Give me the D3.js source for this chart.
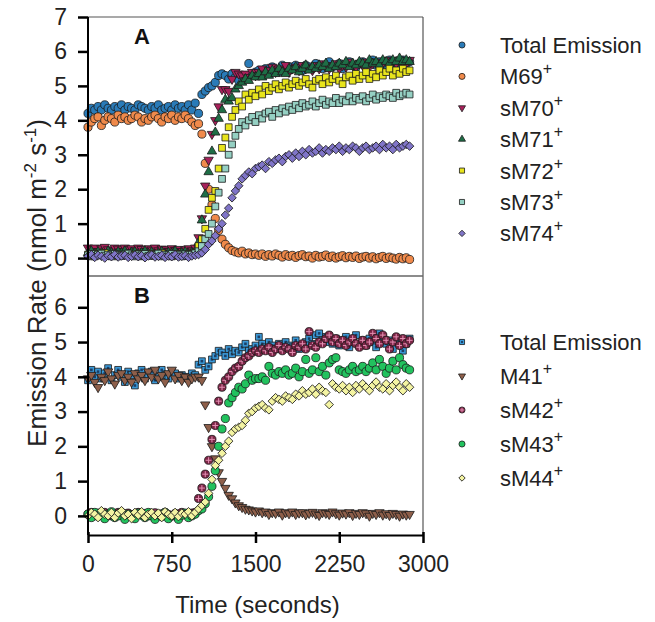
<!DOCTYPE html>
<html>
<head>
<meta charset="utf-8">
<script src="https://cdn.jsdelivr.net/npm/d3@7/dist/d3.min.js"></script>
<style>
  html, body { margin: 0; padding: 0; background: #fff; }
  svg { display: block; font-family: Arial, "Liberation Sans", sans-serif; }
</style>
</head>
<body>
<svg id="chart" width="655" height="622"></svg>
<script>
// Sampling times (s)
const time = [0,30,60,90,120,150,180,210,240,270,300,330,360,390,420,450,480,510,540,570,
  600,630,660,690,720,750,780,810,840,870,900,930,960,990,1020,1050,1080,1110,1140,1170,
  1200,1230,1260,1290,1320,1350,1380,1410,1440,1470,1500,1530,1560,1590,1620,1650,1680,1710,1740,1770,
  1800,1830,1860,1890,1920,1950,1980,2010,2040,2070,2100,2130,2160,2190,2220,2250,2280,2310,2340,2370,
  2400,2430,2460,2490,2520,2550,2580,2610,2640,2670,2700,2730,2760,2790,2820,2850,2880];

const xTicks = [0, 750, 1500, 2250, 3000];
const yTicksA = [0, 1, 2, 3, 4, 5, 6, 7];
const yTicksB = [0, 1, 2, 3, 4, 5, 6];

// Panel A emission rates (nmol m-2 s-1)
const totalA = [4.2,4.35,4.3,4.4,4.3,4.45,4.35,4.3,4.4,4.35,4.45,4.3,4.4,4.35,4.3,4.45,4.4,4.35,4.3,4.4,
  4.35,4.45,4.3,4.35,4.4,4.3,4.45,4.35,4.4,4.3,4.45,4.3,4.5,
  4.2,4.75,4.85,4.95,5.0,5.1,5.3,5.35,5.3,5.2,5.35,5.25,5.15,5.3,5.25,5.65,5.35,5.4,
  5.45,5.35,5.5,5.4,5.55,5.45,5.4,5.6,5.5,5.45,5.55,5.6,5.5,5.45,5.6,5.55,5.5,5.65,5.55,5.5,
  5.6,5.7,5.55,5.6,5.65,5.5,5.6,5.7,5.6,5.55,5.65,5.7,5.6,5.65,5.75,5.6,5.7,5.65,5.6,5.75,
  5.7,5.65,5.7,5.75,5.65,5.7];
const m69 = [3.8,3.95,4.05,4.1,3.85,4.0,4.1,4.05,3.95,4.15,4.05,4.1,4.0,4.05,4.15,4.1,3.95,4.05,4.0,4.1,
  4.15,4.05,3.95,4.1,4.05,4.15,4.0,4.1,4.05,4.15,4.05,3.95,3.85,
  3.9,3.6,2.75,2.0,1.55,1.15,0.8,0.55,0.4,0.3,0.22,0.18,0.15,0.2,0.12,0.15,0.1,0.12,
  0.08,0.12,0.05,0.1,0.06,0.12,0.08,0.03,0.1,0.05,0.08,0.02,0.07,0.1,0.04,0.06,0.0,0.08,0.03,0.05,
  0.09,0.02,0.06,0.0,0.04,0.07,0.01,0.05,0.02,0.06,-0.01,0.03,0.05,0.0,0.04,-0.02,0.02,0.05,-0.01,0.03,
  0.0,-0.03,0.02,-0.02,0.01,-0.04];
const sm70 = [0.3,0.25,0.3,0.2,0.28,0.32,0.25,0.22,0.3,0.27,0.2,0.3,0.25,0.28,0.22,0.3,0.26,0.2,0.28,0.24,
  0.3,0.22,0.27,0.25,0.2,0.28,0.23,0.26,0.2,0.25,0.28,0.22,0.3,
  0.6,1.15,2.1,2.85,3.6,4.0,4.4,4.9,4.9,4.85,5.2,5.4,5.35,5.3,5.35,5.25,5.4,5.3,
  5.4,5.5,5.35,5.45,5.55,5.4,5.5,5.45,5.6,5.4,5.5,5.55,5.45,5.6,5.5,5.55,5.45,5.6,5.5,5.65,
  5.55,5.5,5.6,5.65,5.5,5.6,5.55,5.7,5.6,5.55,5.65,5.6,5.7,5.55,5.65,5.7,5.6,5.65,5.75,5.6,
  5.7,5.65,5.75,5.7,5.65,5.75];
const sm71 = [0.15,0.2,0.12,0.18,0.15,0.1,0.2,0.15,0.12,0.18,0.14,0.2,0.1,0.16,0.18,0.12,0.15,0.2,0.13,0.17,
  0.1,0.15,0.19,0.12,0.16,0.14,0.2,0.1,0.15,0.18,0.12,0.16,0.2,
  0.45,1.1,1.85,2.5,3.1,3.65,4.05,4.3,4.6,4.55,4.65,4.9,5.0,5.1,5.2,5.15,5.3,5.25,
  5.35,5.25,5.4,5.3,5.45,5.35,5.5,5.4,5.35,5.5,5.45,5.55,5.4,5.5,5.6,5.45,5.55,5.5,5.6,5.55,
  5.65,5.5,5.6,5.55,5.65,5.6,5.7,5.55,5.65,5.6,5.7,5.65,5.6,5.75,5.65,5.7,5.6,5.75,5.7,5.65,
  5.75,5.7,5.8,5.7,5.75,5.7];
const sm72 = [0.1,0.05,0.12,0.08,0.1,0.15,0.06,0.1,0.12,0.05,0.1,0.08,0.13,0.07,0.1,0.12,0.05,0.1,0.08,0.12,
  0.06,0.1,0.14,0.08,0.1,0.05,0.12,0.09,0.1,0.07,0.12,0.1,0.15,
  0.35,0.55,0.85,1.4,1.75,1.95,2.6,3.2,3.5,3.8,4.1,4.3,4.55,4.4,4.75,4.6,4.8,4.7,
  4.9,4.75,5.0,4.85,4.95,5.05,4.9,5.0,5.1,4.95,5.05,5.15,5.0,5.1,5.2,5.05,4.95,5.15,5.2,5.05,
  5.25,5.1,5.2,5.3,5.15,5.05,5.25,5.3,5.15,5.35,5.2,5.3,5.4,5.2,5.35,5.25,5.45,5.3,5.4,5.5,
  5.3,5.45,5.35,5.5,5.4,5.45];
const sm73 = [0.08,0.12,0.05,0.1,0.13,0.07,0.1,0.05,0.12,0.09,0.06,0.1,0.13,0.08,0.05,0.11,0.08,0.12,0.06,0.1,
  0.09,0.13,0.05,0.1,0.08,0.12,0.07,0.1,0.05,0.11,0.09,0.1,0.14,
  0.2,0.35,0.55,0.7,1.0,1.5,1.9,2.3,2.6,3.0,3.3,3.55,3.75,3.95,3.85,4.0,4.1,3.95,
  4.15,4.05,4.2,4.25,4.1,4.3,4.2,4.35,4.25,4.4,4.3,4.45,4.35,4.5,4.4,4.45,4.55,4.4,4.5,4.6,
  4.45,4.55,4.5,4.65,4.5,4.6,4.55,4.7,4.55,4.65,4.6,4.7,4.55,4.65,4.75,4.6,4.7,4.65,4.75,4.7,
  4.65,4.8,4.7,4.75,4.8,4.75];
const sm74 = [0.05,0.1,0.02,0.08,0.05,0.0,0.07,0.04,0.1,0.03,0.06,0.08,0.02,0.05,0.09,0.04,0.07,0.01,0.06,0.09,
  0.03,0.05,0.08,0.02,0.06,0.04,0.1,0.03,0.05,0.07,0.02,0.06,0.08,
  0.1,0.15,0.25,0.4,0.5,0.65,0.85,1.0,1.25,1.45,1.75,1.95,2.1,2.3,2.4,2.5,2.45,2.6,
  2.65,2.7,2.6,2.8,2.75,2.85,2.9,2.8,2.95,3.0,2.9,3.05,2.95,3.1,3.0,3.15,3.05,3.1,3.2,3.05,
  3.15,3.1,3.2,3.15,3.25,3.1,3.2,3.15,3.25,3.2,3.1,3.2,3.25,3.15,3.2,3.25,3.15,3.3,3.2,3.25,
  3.15,3.3,3.2,3.25,3.3,3.25];

// Panel B emission rates (nmol m-2 s-1)
const totalB = [3.9,4.2,4.0,4.15,3.95,4.1,4.25,3.9,4.05,4.2,4.0,3.85,4.15,4.05,3.75,4.1,4.2,3.95,4.05,4.15,
  3.9,4.0,4.2,4.05,3.95,4.15,4.1,3.95,4.05,4.0,3.95,4.1,4.05,
  4.35,4.45,4.2,4.3,4.5,4.6,4.75,4.7,4.6,4.8,4.65,4.75,4.7,4.85,4.95,4.75,4.8,4.9,
  5.15,4.95,4.85,5.0,4.9,4.8,4.95,4.85,5.0,4.9,4.85,5.05,4.8,4.9,5.0,5.1,4.95,5.2,5.25,5.05,
  5.15,5.0,4.95,5.1,4.9,5.05,5.15,4.85,5.0,5.2,4.95,5.05,4.9,5.1,5.0,4.85,5.25,5.15,4.95,5.05,
  4.8,5.1,5.0,4.75,4.95,5.1];
const m41 = [3.95,4.05,3.85,3.7,4.0,3.9,4.15,3.95,3.8,4.05,4.1,3.9,4.0,3.85,4.1,3.95,4.05,3.9,4.15,4.0,
  4.2,3.95,4.05,3.85,4.1,4.2,3.95,4.05,3.9,4.0,3.85,3.95,4.0,
  4.0,3.9,3.2,2.55,2.0,1.65,1.25,1.0,0.8,0.6,0.5,0.38,0.3,0.25,0.2,0.18,0.15,0.12,
  0.15,0.1,0.12,0.05,0.1,0.08,0.12,0.03,0.1,0.07,0.12,0.05,0.09,0.1,0.04,0.08,0.11,0.06,0.02,0.1,
  0.08,0.05,0.12,0.07,0.03,0.09,0.06,0.1,0.02,0.08,0.05,0.1,0.07,0.0,0.08,0.05,0.1,0.03,0.07,0.02,
  0.08,0.05,0.0,0.06,0.03,0.05];
const sm42 = [0.05,0.1,0.0,0.08,0.03,0.1,0.05,0.0,0.07,0.1,0.02,0.06,0.08,0.0,0.05,0.1,0.03,0.07,0.0,0.05,
  0.09,0.02,0.06,0.1,0.04,0.0,0.07,0.05,0.1,0.03,0.06,0.08,0.1,
  0.5,0.8,1.2,1.6,2.2,2.6,3.3,3.7,3.9,4.0,4.15,4.25,4.3,4.45,4.55,4.6,4.7,4.75,
  4.7,4.8,4.75,4.85,4.7,4.8,4.9,4.75,4.85,4.8,4.7,4.9,4.85,4.95,4.8,5.3,4.9,4.85,5.0,4.95,
  5.1,5.2,5.0,5.1,4.95,5.05,4.9,5.0,5.1,4.95,4.85,5.05,4.9,5.0,5.25,5.1,4.95,5.2,5.05,4.8,
  5.0,5.15,4.9,5.1,4.95,5.05];
const sm43 = [0.05,-0.05,0.1,0.0,0.08,-0.08,0.05,0.12,-0.05,0.0,0.1,-0.1,0.05,0.0,-0.08,0.08,0.02,-0.05,0.1,0.0,
  -0.1,0.05,-0.02,0.1,-0.08,0.0,0.05,-0.1,0.02,0.08,-0.05,0.0,0.05,
  0.15,0.2,0.35,0.55,0.85,1.3,2.0,2.5,2.8,3.25,3.4,3.55,3.7,3.65,3.8,4.05,3.9,3.95,
  3.95,4.0,3.9,4.3,4.1,4.05,4.15,4.1,4.2,4.05,4.1,4.25,4.0,4.15,4.5,4.1,4.2,4.55,4.15,4.3,
  4.05,4.4,4.5,4.55,4.2,4.15,4.1,4.2,4.3,4.15,4.2,4.3,4.15,4.25,4.4,4.2,4.5,4.3,4.1,4.25,
  4.45,4.2,4.55,4.35,4.25,4.2];
const sm44 = [0.0,0.1,0.05,-0.05,0.15,0.05,0.0,0.1,-0.05,0.08,0.15,0.0,0.05,-0.08,0.1,0.02,0.12,-0.05,0.05,0.1,
  0.0,0.08,-0.05,0.12,0.05,0.0,0.1,-0.02,0.08,0.05,0.12,0.0,0.1,
  0.2,0.3,0.4,0.65,1.05,1.45,1.6,1.8,2.0,2.15,2.4,2.5,2.55,2.6,2.75,2.95,3.0,3.1,
  3.15,3.2,3.1,3.05,3.3,3.4,3.35,3.3,3.45,3.4,3.35,3.5,3.45,3.6,3.5,3.55,3.65,3.5,3.7,3.6,
  3.55,3.2,3.8,3.7,3.65,3.75,3.6,3.7,3.55,3.75,3.65,3.8,3.7,3.6,3.75,3.85,3.7,3.65,3.8,3.6,
  3.75,3.85,3.7,3.6,3.8,3.7];

// Series definitions (label, superscript, values, marker, colours)
const seriesA = [
  { label: "Total Emission", sup: "",  values: totalA, shape: "circle",   fill: "#2a7bb8" },
  { label: "M69",            sup: "+", values: m69,    shape: "circle",   fill: "#f08a4b" },
  { label: "sM70",           sup: "+", values: sm70,   shape: "triDown",  fill: "#a8205a" },
  { label: "sM71",           sup: "+", values: sm71,   shape: "triUp",    fill: "#1e6e46" },
  { label: "sM72",           sup: "+", values: sm72,   shape: "square",   fill: "#e8e41c" },
  { label: "sM73",           sup: "+", values: sm73,   shape: "square",   fill: "#95d0c3" },
  { label: "sM74",           sup: "+", values: sm74,   shape: "diamond",  fill: "#8075c8" }
];
const seriesB = [
  { label: "Total Emission", sup: "",  values: totalB, shape: "squareDot",  fill: "#3a98d6" },
  { label: "M41",            sup: "+", values: m41,    shape: "triDown",    fill: "#8e5f4a" },
  { label: "sM42",           sup: "+", values: sm42,   shape: "circleCross", fill: "#7c2546" },
  { label: "sM43",           sup: "+", values: sm43,   shape: "circle",     fill: "#22c25e" },
  { label: "sM44",           sup: "+", values: sm44,   shape: "diamond",    fill: "#f4f4a2" }
];

const svg = d3.select("#chart");
const left = 88, right = 423;
const x = d3.scaleLinear().domain([0, 3000]).range([left, right]);
const yA = d3.scaleLinear().domain([-0.52, 7]).range([276, 17]);
const yB = d3.scaleLinear().domain([-0.55, 6.9]).range([535, 276]);

// Draws one marker of the given shape centred at the origin of group g
function drawMarker(g, shape, fill, scale) {
  const s = scale || 1;
  const stroke = "#1a1a1a", sw = 0.8;
  const sym = (type, area, rot) => g.append("path")
    .attr("d", d3.symbol().type(type).size(area * s * s)())
    .attr("transform", rot ? `rotate(${rot})` : null)
    .attr("fill", fill).attr("stroke", stroke).attr("stroke-width", sw);
  if (shape === "circle") sym(d3.symbolCircle, 52);
  else if (shape === "square") sym(d3.symbolSquare, 46);
  else if (shape === "triUp") sym(d3.symbolTriangle, 38);
  else if (shape === "triDown") sym(d3.symbolTriangle, 38, 180);
  else if (shape === "diamond") sym(d3.symbolSquare, 36, 45);
  else if (shape === "squareDot") {
    sym(d3.symbolSquare, 46);
    g.append("rect").attr("x", -1.3 * s).attr("y", -1.3 * s).attr("width", 2.6 * s).attr("height", 2.6 * s)
      .attr("fill", "#1d3f66");
  } else if (shape === "circleCross") {
    sym(d3.symbolCircle, 52);
    const r = 3 * s;
    g.append("path").attr("d", `M${-r},0H${r}M0,${-r}V${r}`)
      .attr("stroke", "#e58fb3").attr("stroke-width", 1);
  }
}

function drawPanel(series, y) {
  series.forEach(sr => {
    const g = svg.append("g");
    sr.values.forEach((v, i) => {
      const m = g.append("g").attr("transform", `translate(${x(time[i])},${y(v)})`);
      drawMarker(m, sr.shape, sr.fill, 1);
    });
  });
}
drawPanel(seriesA, yA);
drawPanel(seriesB, yB);

// Frame lines
const frame = svg.append("g").attr("fill", "none");
frame.append("line").attr("x1", left).attr("x2", right).attr("y1", 17).attr("y2", 17)
  .attr("stroke", "#555").attr("stroke-width", 1.2);
frame.append("line").attr("x1", right).attr("x2", right).attr("y1", 17).attr("y2", 535)
  .attr("stroke", "#555").attr("stroke-width", 1.2);
frame.append("line").attr("x1", left).attr("x2", right).attr("y1", 276).attr("y2", 276)
  .attr("stroke", "#666").attr("stroke-width", 1.5);

// Y axes
const yAxisA = svg.append("g").attr("transform", `translate(${left},0)`)
  .call(d3.axisLeft(yA).tickValues(yTicksA).tickSize(10).tickPadding(11).tickSizeOuter(0));
const yAxisB = svg.append("g").attr("transform", `translate(${left},0)`)
  .call(d3.axisLeft(yB).tickValues(yTicksB).tickSize(10).tickPadding(11).tickSizeOuter(0));
// X axis
const xAxis = svg.append("g").attr("transform", `translate(0,535)`)
  .call(d3.axisBottom(x).tickValues(xTicks).tickFormat(d3.format("d"))
    .tickSize(8).tickPadding(13).tickSizeOuter(0));
xAxis.selectAll(".tick line").attr("y1", -3);

[yAxisA, yAxisB, xAxis].forEach(ax => {
  ax.select(".domain").attr("stroke", "#000").attr("stroke-width", 2);
  ax.selectAll(".tick line").attr("stroke", "#000").attr("stroke-width", 2.5);
  ax.selectAll(".tick text").attr("font-size", 23).attr("fill", "#222")
    .attr("font-family", "Arial, 'Liberation Sans', sans-serif");
});
yAxisA.select(".domain").attr("d", `M0,${yA(7)}V276`);
yAxisB.select(".domain").attr("d", `M0,276V535`);

// Panel letters
svg.append("text").attr("x", 134).attr("y", 44).attr("font-size", 22).attr("font-weight", "bold")
  .attr("fill", "#111").text("A");
svg.append("text").attr("x", 134).attr("y", 303).attr("font-size", 22).attr("font-weight", "bold")
  .attr("fill", "#111").text("B");

// Axis titles
svg.append("text").attr("x", (left + right) / 2 + 2).attr("y", 613).attr("text-anchor", "middle")
  .attr("font-size", 24).attr("fill", "#222").text("Time (seconds)");
const yt = svg.append("text").attr("transform", "translate(46,283) rotate(-90)")
  .attr("text-anchor", "middle").attr("font-size", 26).attr("fill", "#222");
yt.append("tspan").text("Emission Rate (nmol m");
yt.append("tspan").attr("font-size", 17).attr("dy", -10).text("-2");
yt.append("tspan").attr("dy", 10).text(" s");
yt.append("tspan").attr("font-size", 17).attr("dy", -10).text("-1");
yt.append("tspan").attr("dy", 10).text(")");

// Legends
function drawLegend(series, y0, step) {
  series.forEach((sr, i) => {
    const cy = y0 + i * step;
    const m = svg.append("g").attr("transform", `translate(462,${cy})`);
    drawMarker(m, sr.shape, sr.fill, 0.75);
    const t = svg.append("text").attr("x", 500).attr("y", cy + 8)
      .attr("font-size", 22).attr("fill", "#222").text(sr.label);
    if (sr.sup) t.append("tspan").attr("font-size", 16).attr("dy", -10).text(sr.sup);
  });
}
drawLegend(seriesA, 45, 31.4);
drawLegend(seriesB, 342, 34);
</script>
</body>
</html>
